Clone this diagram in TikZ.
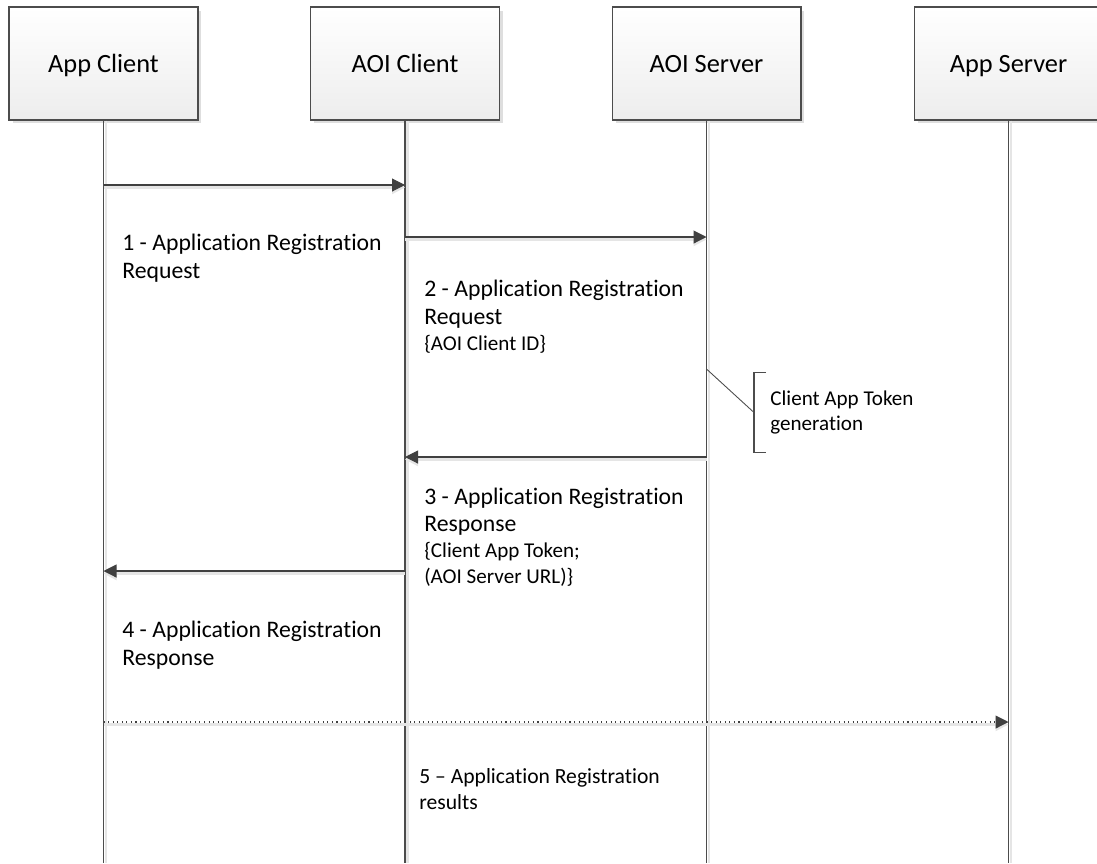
\documentclass[tikz,border=0pt]{standalone}
\usepackage{fontspec}
\setmainfont{Carlito}[Ligatures=CommonOff]
\usetikzlibrary{arrows.meta,positioning,shadows}

\begin{document}
\begin{tikzpicture}[x=0.02cm, y=-0.02cm,
        actor/.style={rectangle, draw=black!70, line width=0.6pt, top color=white, bottom color=black!7, minimum width=3.78cm, minimum height=2.26cm, text height=10.2pt, text depth=0pt, font=\fontsize{15}{18}\selectfont, drop shadow={shadow xshift=0.07cm, shadow yshift=-0.07cm, fill=black!13, opacity=1}},
        lifeline/.style={draw=black!70, line width=0.6pt, preaction={draw=black!10, line width=1.2pt, transform canvas={xshift=0.05cm}}},
        msg/.style={draw=black!75, line width=0.6pt, -{Triangle[length=7.4pt, width=7.4pt]}, preaction={draw=black!10, line width=1.2pt, transform canvas={yshift=-0.05cm}}},
        result/.style={msg, dotted},
        msglabel/.style={anchor=base west, align=left, inner sep=0pt, font=\fontsize{13.5}{15.6}\selectfont},
        small/.style={font=\fontsize{12.3}{14.4}\selectfont},
        note/.style={anchor=west, align=left, inner xsep=0.32cm, inner ysep=0pt, minimum height=1.58cm, font=\fontsize{12}{14.2}\selectfont}
    ]
    \useasboundingbox (0,0) rectangle (1097,863);

    % Actors
    \node[actor] (appclient) at (103.5,63.5) {App Client};
    \node[actor] (aoiclient) at (405,63.5) {AOI Client};
    \node[actor] (aoiserver) at (706.5,63.5) {AOI Server};
    \node[actor] (appserver) at (1008.5,63.5) {App Server};

    % Lifelines
    \coordinate (appclient-end) at (appclient.south |- 0,863);
    \coordinate (aoiclient-end) at (aoiclient.south |- 0,863);
    \coordinate (aoiserver-end) at (aoiserver.south |- 0,863);
    \coordinate (appserver-end) at (appserver.south |- 0,863);
    \draw[lifeline] (appclient) -- (appclient-end);
    \draw[lifeline] (aoiclient) -- (aoiclient-end);
    \draw[lifeline] (aoiserver) -- (aoiserver-end);
    \draw[lifeline] (appserver) -- (appserver-end);

    % Message points on the lifelines
    \coordinate (req1-from) at (appclient.south |- 0,185);
    \coordinate (req1-to) at (aoiclient.south |- 0,185);
    \coordinate (req2-from) at (aoiclient.south |- 0,237);
    \coordinate (req2-to) at (aoiserver.south |- 0,237);
    \coordinate (resp3-from) at (aoiserver.south |- 0,457);
    \coordinate (resp3-to) at (aoiclient.south |- 0,457);
    \coordinate (resp4-from) at (aoiclient.south |- 0,571);
    \coordinate (resp4-to) at (appclient.south |- 0,571);
    \coordinate (res5-from) at (appclient.south |- 0,722);
    \coordinate (res5-to) at (appserver.south |- 0,722);
    \coordinate (tokengen) at (aoiserver.south |- 0,369);

    % Messages
    \draw[msg] (req1-from) -- (req1-to);
    \draw[msg] (req2-from) -- (req2-to);
    \draw[msg] (resp3-from) -- (resp3-to);
    \draw[msg] (resp4-from) -- (resp4-to);
    \draw[result] (res5-from) -- (res5-to);

    % Labels (base = baseline of the last line)
    \node[msglabel] (req1-label) at (122,278) {1 - Application Registration\\Request};
    \node[msglabel] (req2-label) at (424,350) {2 - Application Registration\\Request\\[-1pt]{\fontsize{12}{14.2}\selectfont\{AOI Client ID\}}};
    \node[msglabel] (resp3-label) at (424,583) {3 - Application Registration\\Response\\[-1pt]{\fontsize{12}{14.2}\selectfont\{Client App Token;}\\[-1pt]{\fontsize{12}{14.2}\selectfont(AOI Server URL)\}}};
    \node[msglabel] (resp4-label) at (122,665) {4 - Application Registration\\Response};
    \node[msglabel, small] (res5-label) at (419,809) {5 -- Application Registration\\results};

    % Token generation note
    \node[note] (tokennote) at (754,412.5) {Client App Token\\generation};
    \draw[draw=black!70, line width=0.6pt] ([xshift=0.24cm]tokennote.north west) -- (tokennote.north west) -- (tokennote.south west) -- ([xshift=0.24cm]tokennote.south west);
    \draw[draw=black!70, line width=0.5pt] (tokengen) -- (tokennote.west);

\end{tikzpicture}
\end{document}
